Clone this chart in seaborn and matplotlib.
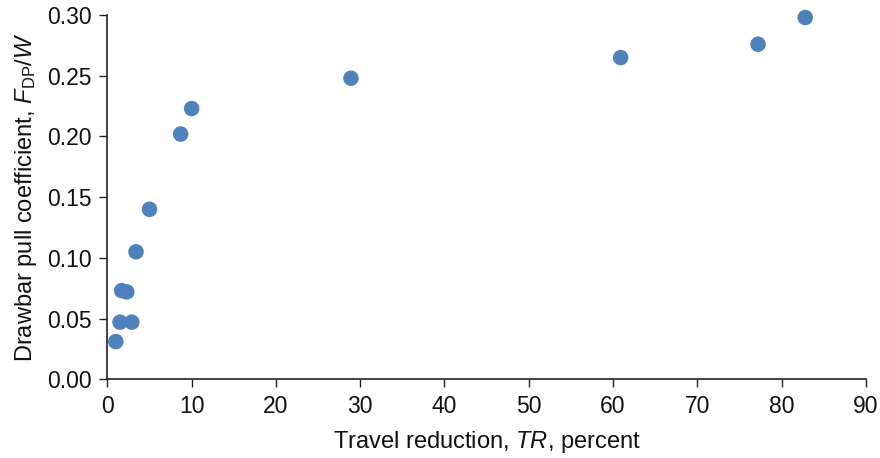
import matplotlib
matplotlib.use("Agg")
import matplotlib.pyplot as plt
import seaborn as sns
import pandas as pd

# Data
travel_reduction = [1.0, 1.5, 1.7, 2.3, 2.9, 3.4, 5.0, 8.7, 10.0, 28.9, 60.9, 77.2, 82.8]
drawbar_pull = [0.031, 0.047, 0.073, 0.072, 0.047, 0.105, 0.140, 0.202, 0.223, 0.248, 0.265, 0.276, 0.298]
x_ticks = [0, 10, 20, 30, 40, 50, 60, 70, 80, 90]
y_ticks = [0.00, 0.05, 0.10, 0.15, 0.20, 0.25, 0.30]

df = pd.DataFrame({"TR": travel_reduction, "FDP_W": drawbar_pull})

sns.set_style("white")
plt.rcParams["font.family"] = ["Liberation Sans", "DejaVu Sans"]
plt.rcParams["mathtext.fontset"] = "custom"
plt.rcParams["mathtext.rm"] = "Liberation Sans"
plt.rcParams["mathtext.it"] = "Liberation Sans:italic"

fig, ax = plt.subplots(figsize=(8.8, 4.58), dpi=100)
fig.subplots_adjust(left=0.122, right=0.984, top=0.967, bottom=0.172)

sns.scatterplot(data=df, x="TR", y="FDP_W", ax=ax, color="#4F81BD",
                s=125, edgecolor="none", linewidth=0, zorder=3, clip_on=False)

ax.set_xlim(0, 90)
ax.set_ylim(0, 0.30)
ax.set_xticks(x_ticks)
ax.set_yticks(y_ticks)
ax.set_yticklabels([f"{v:.2f}" for v in y_ticks])
ax.set_xlabel("Travel reduction, $TR$, percent", fontsize=17, labelpad=8, color="#111111")
ax.set_ylabel(r"Drawbar pull coefficient, $F_{\rm DP}/W$", fontsize=17, labelpad=6, color="#111111")
ax.tick_params(axis="both", labelsize=16.5, direction="out", length=6, width=1,
               color="#222222", labelcolor="#111111", bottom=True, left=True, pad=5)

sns.despine(ax=ax)
for sp in ("left", "bottom"):
    ax.spines[sp].set_color("#222222")
    ax.spines[sp].set_linewidth(1.2)

plt.savefig("out.png", dpi=100)
